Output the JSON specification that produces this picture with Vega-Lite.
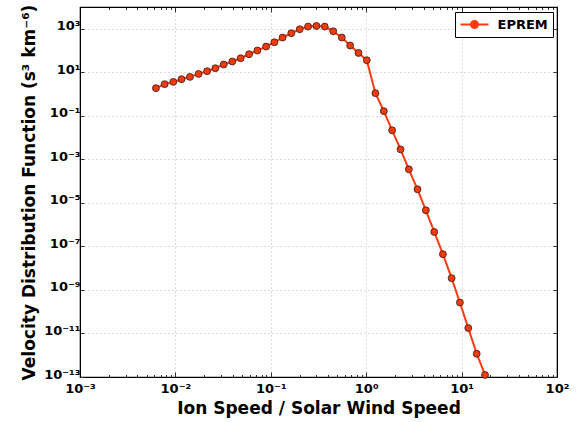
{
  "$schema": "https://vega.github.io/schema/vega-lite/v6.json",
  "width": 477,
  "height": 370,
  "autosize": "none",
  "padding": {"left": 80, "top": 7, "right": 26, "bottom": 45},
  "background": "white",
  "config": {
    "view": {"stroke": "black", "strokeWidth": 1.2},
    "font": "DejaVu Sans",
    "axis": {
      "labelFont": "DejaVu Sans",
      "labelFontWeight": "bold",
      "labelFontSize": 13,
      "labelColor": "black",
      "titleFont": "DejaVu Sans",
      "titleFontWeight": "bold",
      "titleFontSize": 17,
      "titleColor": "black",
      "domainColor": "black",
      "tickColor": "#333",
      "gridColor": "#bbbbbb",
      "gridDash": [1, 3],
      "gridWidth": 1
    }
  },
  "data": {
    "values": [
      {"x": 0.00625, "y": 1.87, "series": "EPREM"},
      {"x": 0.00771, "y": 2.85, "series": "EPREM"},
      {"x": 0.00951, "y": 3.63, "series": "EPREM"},
      {"x": 0.0116, "y": 4.82, "series": "EPREM"},
      {"x": 0.0142, "y": 6.15, "series": "EPREM"},
      {"x": 0.0175, "y": 8.45, "series": "EPREM"},
      {"x": 0.0215, "y": 11.2, "series": "EPREM"},
      {"x": 0.0262, "y": 15.4, "series": "EPREM"},
      {"x": 0.0321, "y": 22.8, "series": "EPREM"},
      {"x": 0.0395, "y": 31.3, "series": "EPREM"},
      {"x": 0.0483, "y": 44.3, "series": "EPREM"},
      {"x": 0.0592, "y": 67.6, "series": "EPREM"},
      {"x": 0.0723, "y": 100, "series": "EPREM"},
      {"x": 0.0893, "y": 152, "series": "EPREM"},
      {"x": 0.109, "y": 240, "series": "EPREM"},
      {"x": 0.133, "y": 395, "series": "EPREM"},
      {"x": 0.164, "y": 622, "series": "EPREM"},
      {"x": 0.201, "y": 949, "series": "EPREM"},
      {"x": 0.246, "y": 1262, "series": "EPREM"},
      {"x": 0.301, "y": 1344, "series": "EPREM"},
      {"x": 0.368, "y": 1262, "series": "EPREM"},
      {"x": 0.451, "y": 767, "series": "EPREM"},
      {"x": 0.555, "y": 395, "series": "EPREM"},
      {"x": 0.679, "y": 169, "series": "EPREM"},
      {"x": 0.83, "y": 77.6, "series": "EPREM"},
      {"x": 1.014, "y": 35.9, "series": "EPREM"},
      {"x": 1.25, "y": 1.1, "series": "EPREM"},
      {"x": 1.53, "y": 0.164, "series": "EPREM"},
      {"x": 1.87, "y": 0.0216, "series": "EPREM"},
      {"x": 2.29, "y": 0.00288, "series": "EPREM"},
      {"x": 2.8, "y": 0.000348, "series": "EPREM"},
      {"x": 3.45, "y": 4.21e-5, "series": "EPREM"},
      {"x": 4.22, "y": 4.58e-6, "series": "EPREM"},
      {"x": 5.17, "y": 4.63e-7, "series": "EPREM"},
      {"x": 6.37, "y": 4.39e-8, "series": "EPREM"},
      {"x": 7.86, "y": 3.48e-9, "series": "EPREM"},
      {"x": 9.6, "y": 2.64e-10, "series": "EPREM"},
      {"x": 11.75, "y": 1.77e-11, "series": "EPREM"},
      {"x": 14.4, "y": 1.17e-12, "series": "EPREM"},
      {"x": 17.6, "y": 1.24e-13, "series": "EPREM"}
    ]
  },
  "resolve": {"axis": {"x": "independent", "y": "independent"}},
  "layer": [
    {
      "mark": {
        "type": "line",
        "strokeWidth": 2,
        "clip": false,
        "point": {"filled": true, "size": 48, "fill": "#f03a10", "stroke": "#3a1a10", "strokeWidth": 0.8, "opacity": 1}
      },
      "encoding": {
        "x": {
          "field": "x",
          "type": "quantitative",
          "scale": {"type": "log", "domain": [0.001, 100], "nice": false},
          "title": "Ion Speed / Solar Wind Speed",
          "axis": {
            "orient": "bottom",
            "values": [0.001, 0.002, 0.003, 0.004, 0.005, 0.006, 0.007, 0.008, 0.009, 0.01, 0.02, 0.03, 0.04, 0.05, 0.06, 0.07, 0.08, 0.09, 0.1, 0.2, 0.3, 0.4, 0.5, 0.6, 0.7, 0.8, 0.9, 1, 2, 3, 4, 5, 6, 7, 8, 9, 10, 20, 30, 40, 50, 60, 70, 80, 90, 100],
            "labelExpr": "abs(log(datum.value)/LN10 - round(log(datum.value)/LN10)) < 0.001 ? '10' + (round(log(datum.value)/LN10) < 0 ? '⁻' : '') + substring('⁰¹²³⁴⁵⁶⁷⁸⁹', abs(round(log(datum.value)/LN10)) % 10, abs(round(log(datum.value)/LN10)) % 10 + 1) : ''",
            "tickSize": {"condition": {"test": "abs(log(datum.value)/LN10 - round(log(datum.value)/LN10)) < 0.001", "value": -5}, "value": -2.5},
            "gridOpacity": {"condition": {"test": "abs(log(datum.value)/LN10 - round(log(datum.value)/LN10)) < 0.001", "value": 1}, "value": 0},
            "grid": true,
            "labelPadding": 10,
            "labelFlush": false,
            "labelOverlap": false,
            "titlePadding": 3
          }
        },
        "y": {
          "field": "y",
          "type": "quantitative",
          "scale": {"type": "log", "domain": [1e-13, 10000], "nice": false},
          "title": "Velocity Distribution Function (s³ km⁻⁶)",
          "axis": {
            "orient": "left",
            "values": [1e-13, 1e-11, 1e-9, 1e-7, 1e-5, 0.001, 0.1, 10, 1000],
            "labelExpr": "'10' + (round(log(datum.value)/LN10) < 0 ? '⁻' : '') + (abs(round(log(datum.value)/LN10)) >= 10 ? '¹' : '') + substring('⁰¹²³⁴⁵⁶⁷⁸⁹', abs(round(log(datum.value)/LN10)) % 10, abs(round(log(datum.value)/LN10)) % 10 + 1)",
            "tickSize": -4,
            "grid": true,
            "labelPadding": 4,
            "labelOffset": -3,
            "labelFlush": false,
            "labelOverlap": false,
            "titlePadding": 5
          }
        },
        "color": {
          "field": "series",
          "type": "nominal",
          "scale": {"range": ["#ff3a10"]},
          "legend": {
            "title": null,
            "orient": "none",
            "legendX": 375,
            "legendY": 5,
            "symbolType": "M-2,0 L2,0 M-0.5,0 A0.5,0.5 0 1,0 0.5,0 A0.5,0.5 0 1,0 -0.5,0 Z",
            "symbolSize": 196,
            "symbolOffset": 7,
            "symbolFillColor": "#f03a10",
            "symbolStrokeColor": "#ff3a10",
            "symbolStrokeWidth": 2,
            "labelFont": "DejaVu Sans",
            "labelFontWeight": "bold",
            "labelFontSize": 13,
            "labelColor": "black",
            "labelOffset": 15,
            "strokeColor": "black",
            "fillColor": "white",
            "padding": 4.5
          }
        }
      }
    },
    {
      "mark": {"type": "point", "opacity": 0},
      "encoding": {
        "x": {
          "field": "x",
          "type": "quantitative",
          "scale": {"type": "log", "domain": [0.001, 100], "nice": false},
          "axis": {
            "orient": "top",
            "title": null,
            "labels": false,
            "grid": false,
            "values": [0.001, 0.002, 0.003, 0.004, 0.005, 0.006, 0.007, 0.008, 0.009, 0.01, 0.02, 0.03, 0.04, 0.05, 0.06, 0.07, 0.08, 0.09, 0.1, 0.2, 0.3, 0.4, 0.5, 0.6, 0.7, 0.8, 0.9, 1, 2, 3, 4, 5, 6, 7, 8, 9, 10, 20, 30, 40, 50, 60, 70, 80, 90, 100],
            "tickSize": {"condition": {"test": "abs(log(datum.value)/LN10 - round(log(datum.value)/LN10)) < 0.001", "value": -5}, "value": -2.5}
          }
        },
        "y": {
          "field": "y",
          "type": "quantitative",
          "scale": {"type": "log", "domain": [1e-13, 10000], "nice": false},
          "axis": {
            "orient": "right",
            "title": null,
            "labels": false,
            "grid": false,
            "values": [1e-13, 1e-11, 1e-9, 1e-7, 1e-5, 0.001, 0.1, 10, 1000],
            "tickSize": -4
          }
        }
      }
    }
  ]
}
